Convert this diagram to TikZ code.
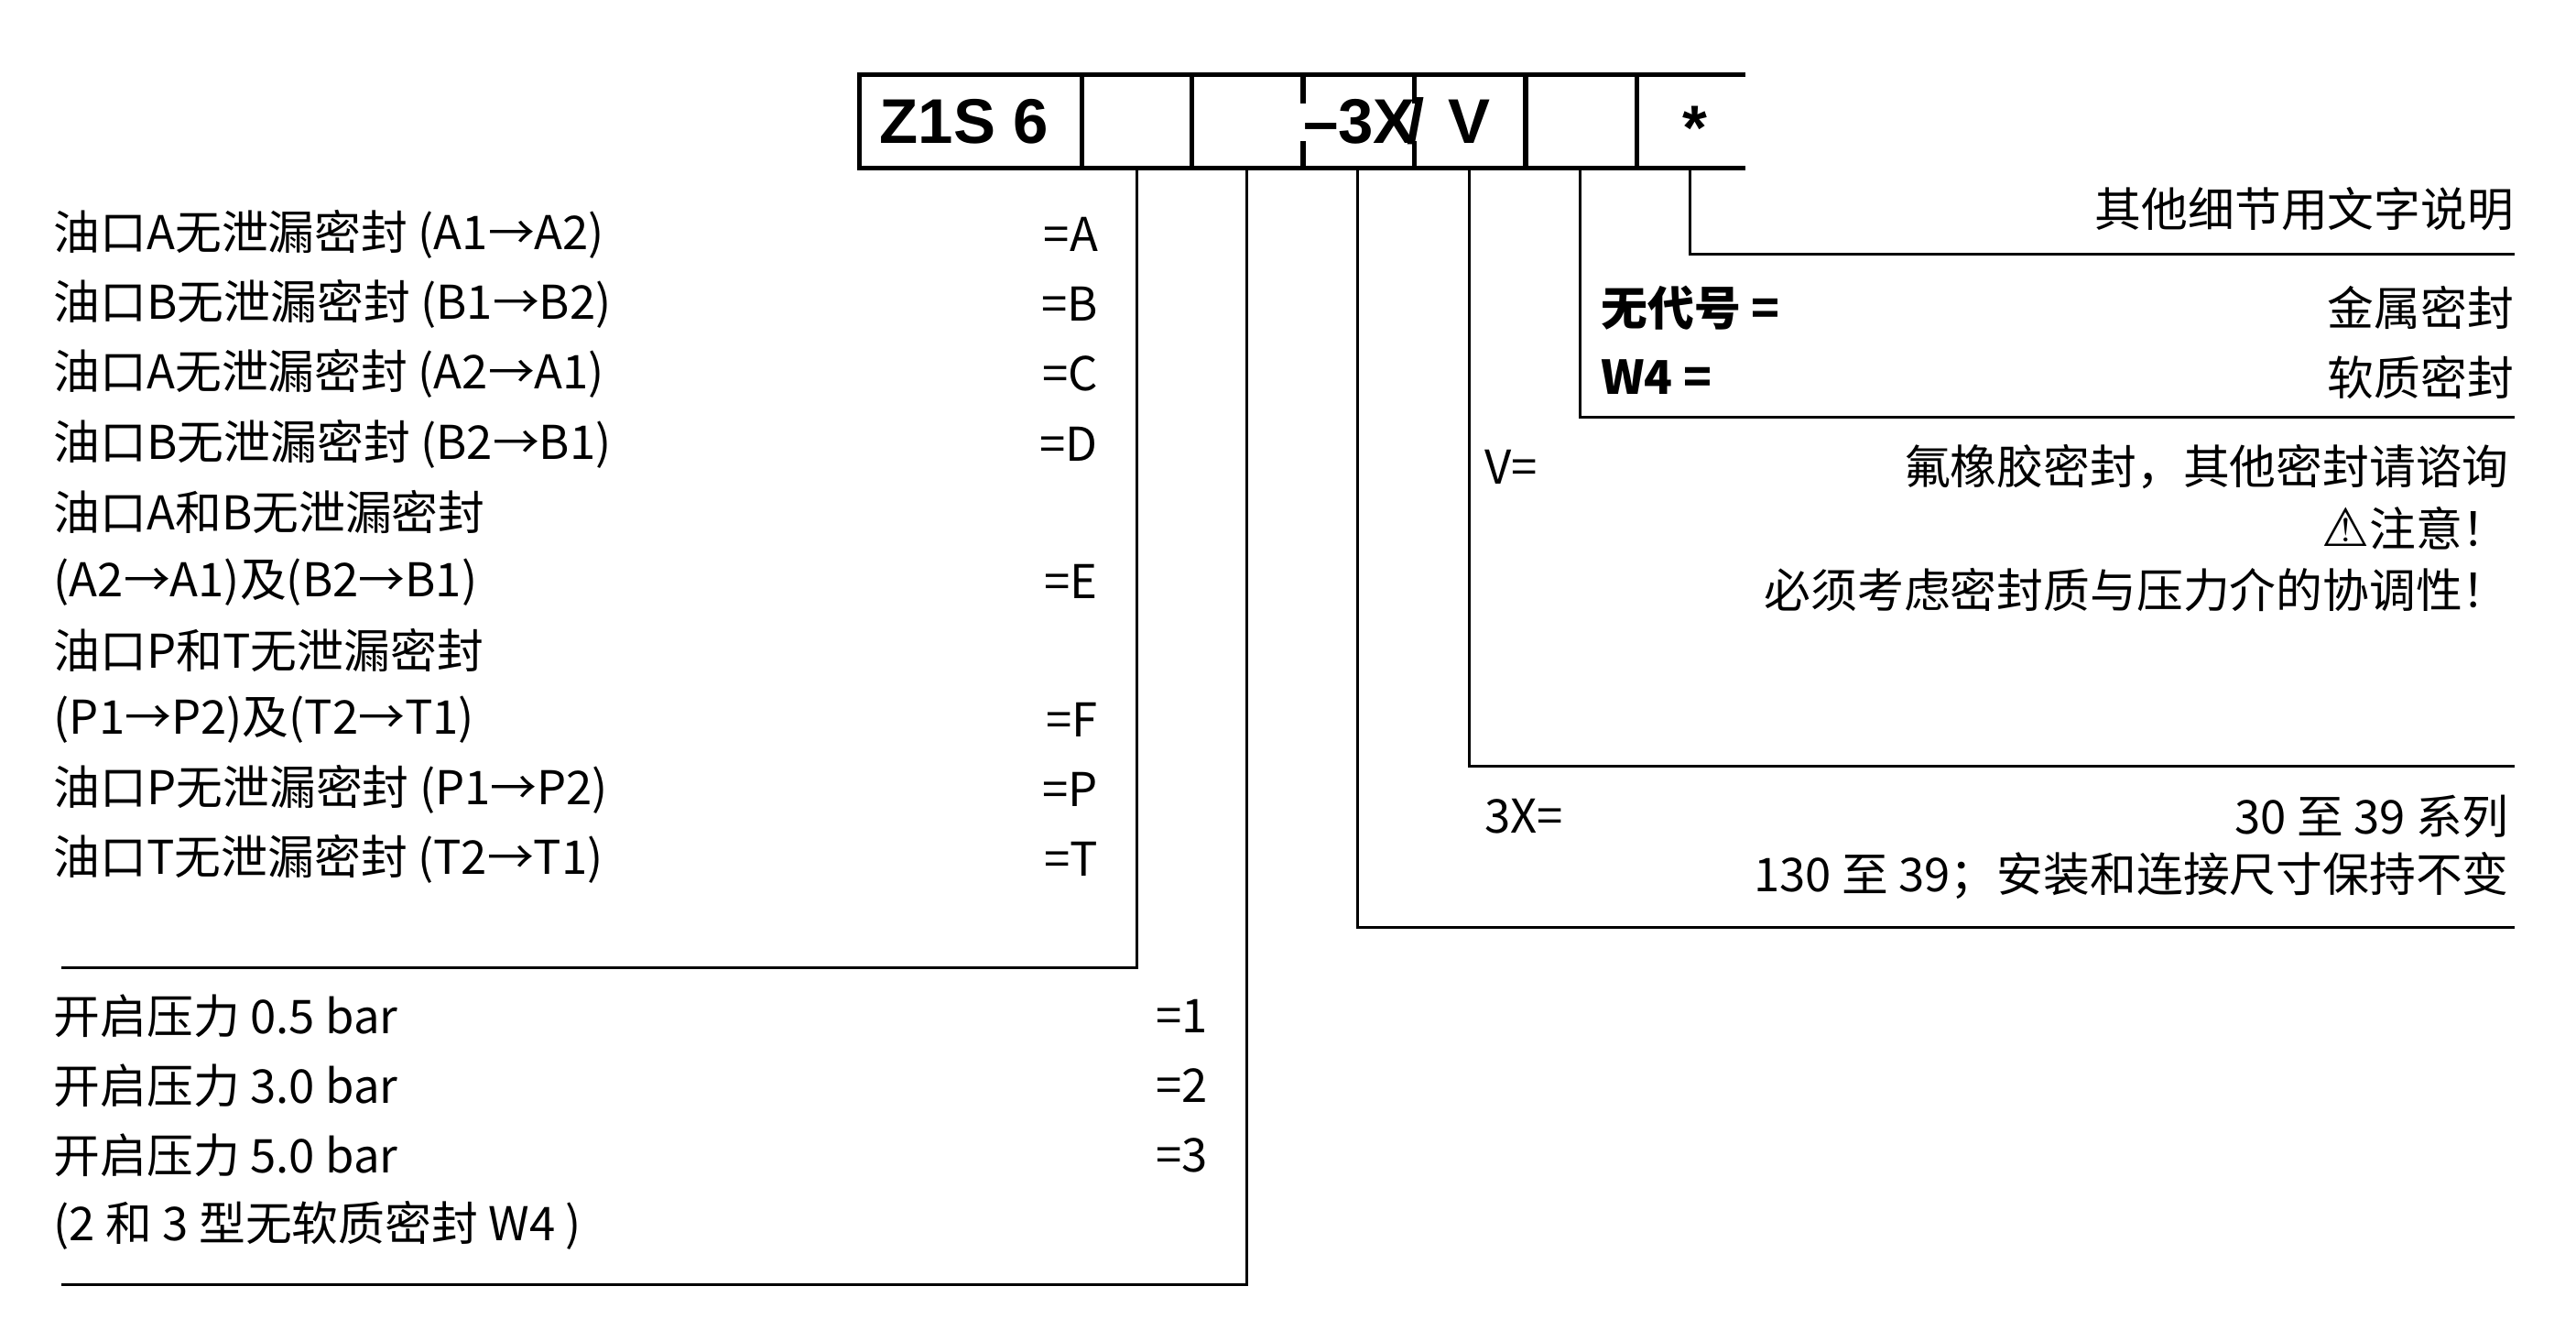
\documentclass[tikz,border=0pt]{standalone}
\usepackage{fontspec}
\setmainfont{Noto Sans CJK SC}
\newfontfamily\lat{Liberation Sans}
\newfontfamily\djv{DejaVu Sans}
\begin{document}
\begin{tikzpicture}[x=0.5pt,y=-0.5pt,
  txt/.style={inner sep=0pt,font=\fontsize{14}{16}\selectfont},
  lt/.style={txt,anchor=west},
  rt/.style={txt,anchor=east},
  boxl/.style={line width=1.5pt},
  lead/.style={line width=0.8pt}]
\useasboundingbox (0,0) rectangle (1550,793);
% box
\draw[boxl] (1050,45) -- (517,45) -- (517,101) -- (1050,101);
\foreach \x in {651,717,918,985} \draw[boxl] (\x,45) -- (\x,101);
\draw[boxl] (784,45) -- (784,62) (784,85) -- (784,101);
\draw[boxl] (851,45) -- (851,62) (851,85) -- (851,101);
\node[txt,font=\fontsize{19}{20}\lat\bfseries] (z) at (580,73) {Z1S 6};
\node[txt,font=\fontsize{19}{20}\lat\bfseries] (tx) at (818,73) {–3X};
\node[txt,font=\fontsize{19}{20}\lat\bfseries] (sl) at (852,73) {/};
\node[txt,font=\fontsize{19}{20}\lat\bfseries] (v) at (884,73) {V};
\node[txt,font=\fontsize{19}{20}\lat\bfseries] (st) at (1020,77) {*};
% leaders
\coordinate (c2) at (684,101); \coordinate (c2b) at (684,582); \coordinate (c2e) at (37,582);
\coordinate (c3) at (750,101); \coordinate (c3b) at (750,773); \coordinate (c3e) at (37,773);
\coordinate (c4) at (817,101); \coordinate (c4b) at (817,558); \coordinate (c4e) at (1513,558);
\coordinate (c5) at (884,101); \coordinate (c5b) at (884,461); \coordinate (c5e) at (1513,461);
\coordinate (c6) at (951,101); \coordinate (c6b) at (951,251); \coordinate (c6e) at (1513,251);
\coordinate (c7) at (1017,101); \coordinate (c7b) at (1017,153); \coordinate (c7e) at (1513,153);
\foreach \i in {2,...,7} \draw[lead] (c\i) -- (c\i b) -- (c\i e);
% left list
\node[lt] (l1) at (32,141) {油口A无泄漏密封 (A1→A2)}; \node[rt] (r1) at (661,141) {=A};
\node[lt] (l2) at (32,183) {油口B无泄漏密封 (B1→B2)}; \node[rt] (r2) at (661,183) {=B};
\node[lt] (l3) at (32,225) {油口A无泄漏密封 (A2→A1)}; \node[rt] (r3) at (661,225) {=C};
\node[lt] (l4) at (32,267) {油口B无泄漏密封 (B2→B1)}; \node[rt] (r4) at (661,267) {=D};
\node[lt] (l5) at (32,308) {油口A和B无泄漏密封};
\node[lt] (l6) at (32,350) {(A2→A1)及(B2→B1)}; \node[rt] (r6) at (661,350) {=E};
\node[lt] (l7) at (32,391) {油口P和T无泄漏密封};
\node[lt] (l8) at (32,433) {(P1→P2)及(T2→T1)}; \node[rt] (r8) at (661,433) {=F};
\node[lt] (l9) at (32,475) {油口P无泄漏密封 (P1→P2)}; \node[rt] (r9) at (661,475) {=P};
\node[lt] (l10) at (32,517) {油口T无泄漏密封 (T2→T1)}; \node[rt] (r10) at (661,517) {=T};
\node[lt] (m1) at (32,611) {开启压力 0.5 bar}; \node[rt] (n1) at (727,611) {=1};
\node[lt] (m2) at (32,653) {开启压力 3.0 bar}; \node[rt] (n2) at (727,653) {=2};
\node[lt] (m3) at (32,695) {开启压力 5.0 bar}; \node[rt] (n3) at (727,695) {=3};
\node[lt] (m4) at (32,737) {(2 和 3 型无软质密封 W4 )};
% right side
\node[rt] (p1) at (1513,126) {其他细节用文字说明};
\node[lt,font=\fontsize{14}{16}\selectfont\bfseries] (q1) at (963,185) {无代号 =}; \node[rt] (q1r) at (1513,185) {金属密封};
\node[lt,font=\fontsize{14}{16}\selectfont\bfseries] (q2) at (963,227) {W4 =}; \node[rt] (q2r) at (1513,227) {软质密封};
\node[lt] (s1) at (893,281) {V=}; \node[rt] (s1r) at (1510,281) {氟橡胶密封，其他密封请谘询};
\node[rt] (s2) at (1510,318) {{\djv\fontsize{16}{16}\selectfont ⚠}注意！};
\node[rt] (s3) at (1510,355) {必须考虑密封质与压力介的协调性！};
\node[lt] (t1) at (893,491) {3X=}; \node[rt] (t1r) at (1510,491) {30 至 39 系列};
\node[rt] (t2) at (1510,527) {130 至 39；安装和连接尺寸保持不变};
\end{tikzpicture}
\end{document}
